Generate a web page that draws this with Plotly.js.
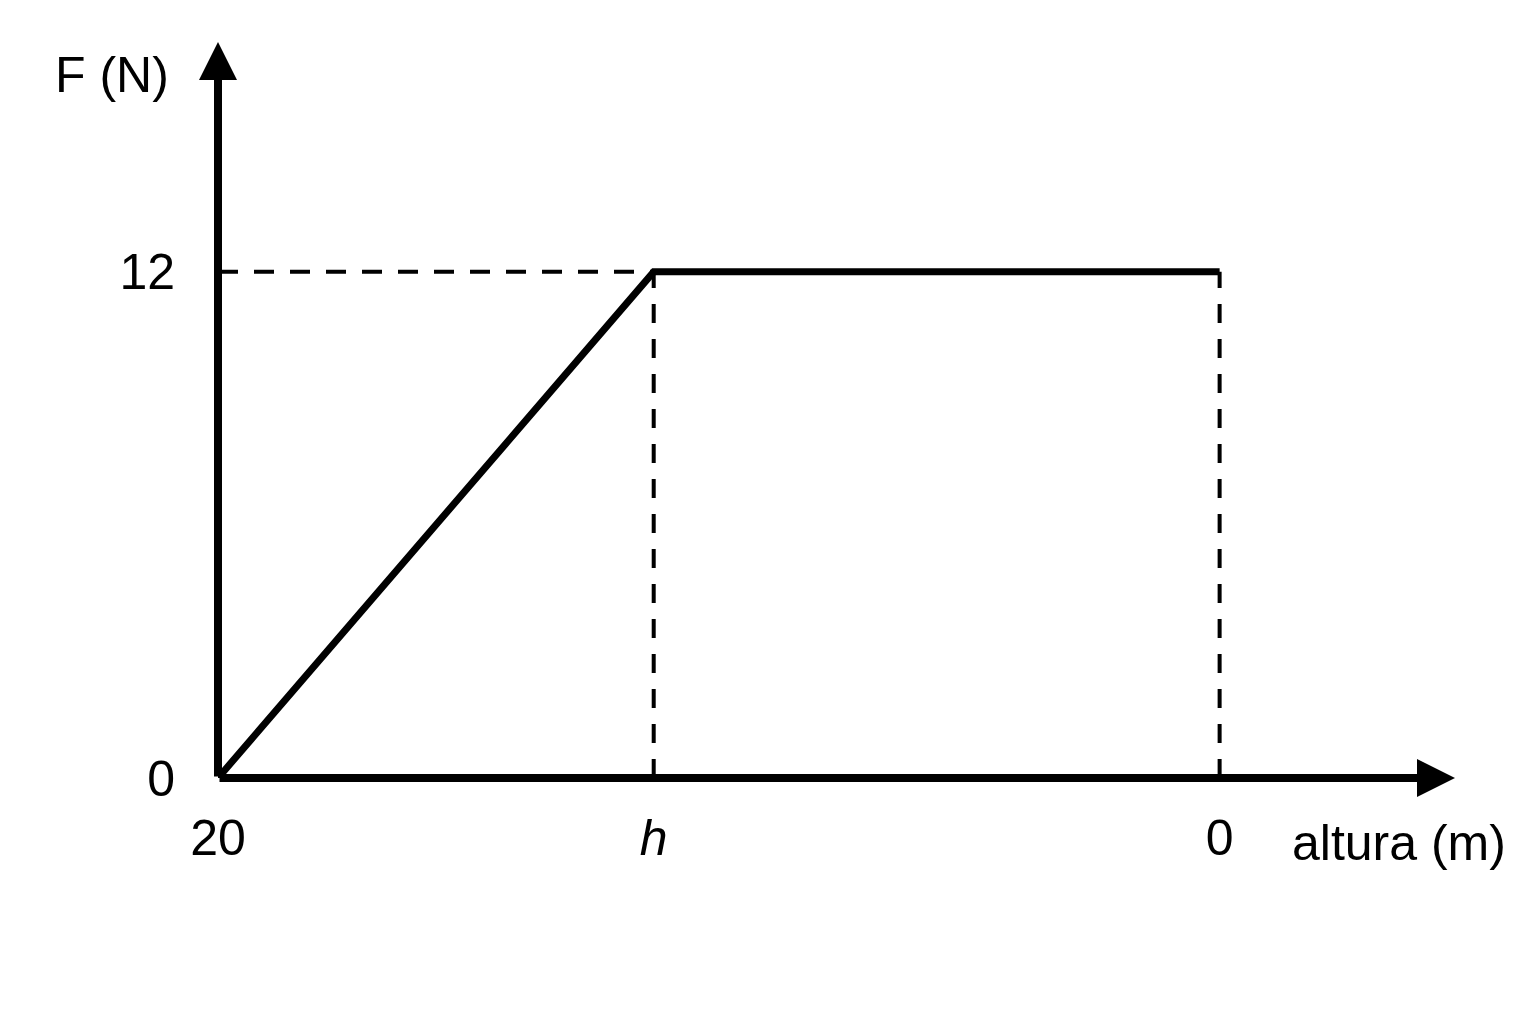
<!DOCTYPE html>
<html>
<head>
<meta charset="utf-8">
<script src="https://cdn.plot.ly/plotly-3.0.1.min.js"></script>
<style>
  html, body { margin: 0; padding: 0; background: #fff; }
  #plot { width: 1537px; height: 1023px; }
</style>
</head>
<body>
<div id="plot"></div>
<script>
// heights (m), the x axis runs from 20 down to 0
var hPos = 11.3;             // where "h" sits on the axis
var altura = [20, hPos, 0];  // force curve
var forca = [0, 12, 12];     // F (N)

// tick values and labels
var xTickVals = [20, hPos, 0];
var xTickText = ['20', '<i>h</i>', '0'];
var yTickVals = [0, 12];
var yTickText = ['0', '12'];

// axis ends (where the arrows point)
var xEnd = -4.7;
var yEnd = 17.45;

function main() {
  var font = 'Liberation Sans, Arial, sans-serif';

  // dashed guide lines
  var guideH = {
    x: [altura[0], altura[1]], y: [forca[1], forca[1]],
    mode: 'lines', hoverinfo: 'skip',
    line: { color: '#000', width: 4, dash: '20px,16px' }
  };
  var guideV1 = {
    x: [altura[1], altura[1]], y: [0, forca[1]],
    mode: 'lines', hoverinfo: 'skip',
    line: { color: '#000', width: 4, dash: '19px,16px' }
  };
  var guideV2 = {
    x: [altura[2], altura[2]], y: [0, forca[2]],
    mode: 'lines', hoverinfo: 'skip',
    line: { color: '#000', width: 4, dash: '19px,16px' }
  };

  // the force curve
  var trace = {
    x: altura, y: forca,
    mode: 'lines',
    line: { color: '#000', width: 7 },
    cliponaxis: false
  };

  var layout = {
    width: 1537, height: 1023,
    margin: { l: 218, r: 82, t: 42, b: 245 },
    paper_bgcolor: '#fff', plot_bgcolor: '#fff',
    showlegend: false,
    font: { family: font, size: 50, color: '#000' },
    xaxis: {
      range: [20, xEnd],
      showgrid: false, zeroline: false, showline: false,
      tickvals: xTickVals, ticktext: xTickText,
      ticks: '', ticklabelstandoff: 26,
      tickfont: { family: font, size: 50, color: '#000' }
    },
    yaxis: {
      range: [0, yEnd],
      showgrid: false, zeroline: false, showline: false,
      tickvals: yTickVals, ticktext: yTickText,
      ticks: '', ticklabelstandoff: 42,
      tickfont: { family: font, size: 50, color: '#000' }
    },
    annotations: [
      // x axis with arrow
      { x: xEnd, y: 0, xref: 'x', yref: 'y', ax: 20, ay: 0, axref: 'x', ayref: 'y',
        text: '', showarrow: true, arrowhead: 2, arrowsize: 0.95, arrowwidth: 8, arrowcolor: '#000' },
      // y axis with arrow
      { x: 20, y: yEnd, xref: 'x', yref: 'y', ax: 20, ay: 0, axref: 'x', ayref: 'y',
        text: '', showarrow: true, arrowhead: 2, arrowsize: 0.95, arrowwidth: 8, arrowcolor: '#000' },
      // axis titles
      { x: 112, y: 75, xref: 'paper', yref: 'paper', text: 'F (N)', showarrow: false,
        xanchor: 'center', yanchor: 'middle', font: { family: font, size: 50, color: '#000' } },
      { x: 1399, y: 843, xref: 'paper', yref: 'paper', text: 'altura (m)', showarrow: false,
        xanchor: 'center', yanchor: 'middle', font: { family: font, size: 50, color: '#000' } }
    ]
  };

  // convert the title positions from pixels to paper fractions
  var pw = 1537 - 218 - 82, ph = 1023 - 42 - 245;
  layout.annotations.slice(2).forEach(function (a) {
    a.x = (a.x - 218) / pw;
    a.y = (1023 - 245 - a.y) / ph;
  });

  Plotly.newPlot('plot', [guideH, guideV1, guideV2, trace], layout, { displayModeBar: false, staticPlot: true });
}
main();
</script>
</body>
</html>
